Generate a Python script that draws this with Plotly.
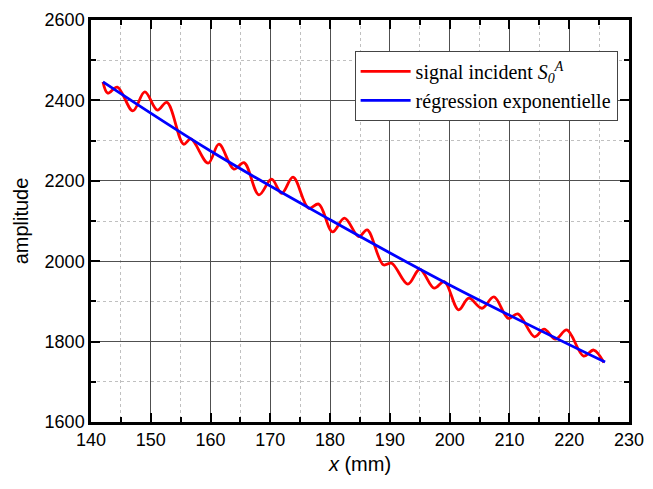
import plotly.graph_objects as go

# Red signal (extrema)
signal_x = [142.0, 142.8, 144.4, 147.0, 149.0, 151.1, 152.7, 155.5, 156.7, 159.6,
            161.4, 163.9, 165.6, 168.1, 170.2, 171.9, 173.8, 176.4, 178.1, 180.4,
            182.4, 184.8, 186.2, 188.9, 190.3, 193.0, 195.0, 197.4, 199.1, 201.5,
            203.2, 205.4, 207.4, 209.8, 211.4, 214.2, 215.8, 217.7, 219.6, 222.4,
            224.1, 225.8]
signal_y = [2446, 2418, 2433, 2374, 2421, 2376, 2395, 2291, 2304, 2244,
            2291, 2229, 2245, 2165, 2204, 2169, 2209, 2132, 2142, 2073,
            2107, 2061, 2078, 1991, 1995, 1943, 1980, 1933, 1949, 1879,
            1908, 1883, 1911, 1858, 1869, 1812, 1831, 1806, 1829, 1764,
            1779, 1748]

# Blue regression
reg_x = [142, 160, 180, 200, 226]
reg_y = [2446, 2274, 2103, 1941, 1749]

x_ticks = [140, 150, 160, 170, 180, 190, 200, 210, 220, 230]
y_ticks = [1600, 1800, 2000, 2200, 2400, 2600]

fig = go.Figure()
fig.add_trace(go.Scatter(
    x=signal_x, y=signal_y, mode="lines",
    line=dict(color="#ff0000", width=2.8, shape="spline", smoothing=1.0),
    name="signal incident <i>S</i><sub><i>0</i></sub><sup><i>A</i></sup>"))
fig.add_trace(go.Scatter(
    x=reg_x, y=reg_y, mode="lines",
    line=dict(color="#0000ff", width=2.8, shape="spline"),
    name="régression exponentielle"))

axis_common = dict(
    showline=True, linecolor="black", linewidth=2.5, mirror="ticks",
    ticks="inside", ticklen=9, tickwidth=2, tickcolor="black",
    showgrid=True, gridcolor="#505050", gridwidth=1,
    zeroline=False, automargin=False, ticklabeloverflow="allow",
    tickfont=dict(family="Liberation Sans, Arial", size=18, color="black"),
)

fig.update_xaxes(
    range=[140, 230], tickvals=x_ticks,
    minor=dict(dtick=5, tick0=140, ticks="inside", ticklen=5, tickwidth=2,
               tickcolor="black", showgrid=True, gridcolor="#c0c0c0",
               griddash="dot", gridwidth=1),
    title=dict(text="<i>x</i> (mm)", font=dict(family="Liberation Sans, Arial", size=20, color="black"),
               standoff=8),
    **axis_common)
fig.update_yaxes(
    range=[1600, 2600], tickvals=y_ticks,
    minor=dict(dtick=100, tick0=1600, ticks="inside", ticklen=5, tickwidth=2,
               tickcolor="black", showgrid=True, gridcolor="#c0c0c0",
               griddash="dot", gridwidth=1),
    title=dict(text="amplitude", font=dict(family="Liberation Sans, Arial", size=20, color="black"),
               standoff=11),
    **axis_common)

fig.update_layout(
    width=645, height=473,
    margin=dict(l=83, r=24, t=12, b=59, autoexpand=False),
    paper_bgcolor="white", plot_bgcolor="white",
    legend=dict(x=0.49, y=0.923, xanchor="left", yanchor="top",
                bgcolor="white", bordercolor="#444444", borderwidth=1,
                itemwidth=50,
                font=dict(family="Liberation Serif, Times New Roman", size=20, color="black"),
                tracegroupgap=0),
    showlegend=True,
)

fig.write_html("out.html")
